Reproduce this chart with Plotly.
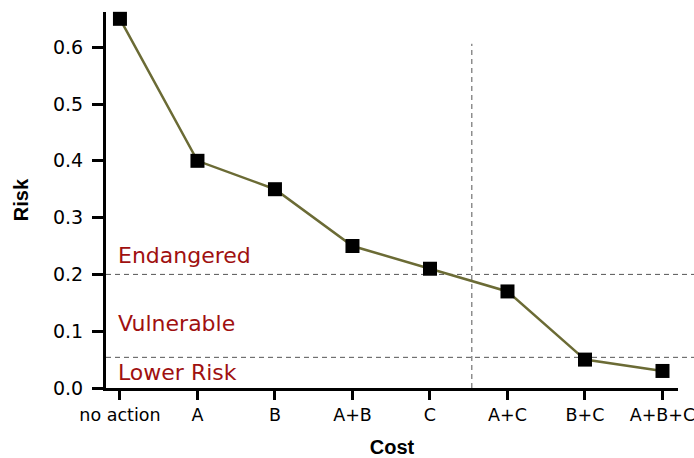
import plotly.graph_objects as go

categories = ["no action", "A", "B", "A+B", "C", "A+C", "B+C", "A+B+C"]
risk = [0.65, 0.40, 0.35, 0.25, 0.21, 0.17, 0.05, 0.03]
y_ticks = [0.0, 0.1, 0.2, 0.3, 0.4, 0.5, 0.6]
threshold_endangered = 0.2
threshold_lower = 0.054
cost_cut = 4.54
cost_cut_top = 0.606
zone_labels = ["Endangered", "Vulnerable", "Lower Risk"]
zone_label_y = [0.234, 0.113, 0.028]

Y_MAX = 0.662
X_RANGE = [-0.18, 7.2]

x_idx = list(range(len(categories)))

fig = go.Figure()
fig.add_trace(go.Scatter(
    x=x_idx, y=risk, mode="lines+markers",
    line=dict(color="#6b6b35", width=2.5),
    marker=dict(symbol="square", size=14, color="black"),
    cliponaxis=False, showlegend=False,
))

dash = "5px,4px"
for thr in [threshold_endangered, threshold_lower]:
    fig.add_shape(type="line", xref="x domain", yref="y domain",
                  x0=0, x1=1.03, y0=thr / Y_MAX, y1=thr / Y_MAX,
                  line=dict(color="#555555", width=1, dash=dash), layer="below")
fig.add_shape(type="line", xref="x", yref="y",
              x0=cost_cut, x1=cost_cut, y0=0, y1=cost_cut_top,
              line=dict(color="#555555", width=1, dash=dash), layer="below")

for txt, yy in zip(zone_labels, zone_label_y):
    fig.add_annotation(x=-0.05, y=yy, xref="x", yref="y", text=txt,
                       showarrow=False, xanchor="left", yanchor="middle",
                       font=dict(family="DejaVu Sans", size=22, color="#a01010"))

fig.update_layout(
    width=694, height=458,
    margin=dict(l=106, r=16, t=12, b=70),
    plot_bgcolor="white", paper_bgcolor="white",
    font=dict(family="DejaVu Sans", size=19, color="black"),
)
fig.update_xaxes(
    range=X_RANGE, tickvals=x_idx, ticktext=categories, automargin=False,
    ticklabeloverflow="allow", tickfont=dict(size=17.5),
    showgrid=False, zeroline=False, showline=True, linecolor="black", linewidth=3,
    ticks="outside", ticklen=9, tickwidth=3, tickcolor="black",
    title=dict(text="<b>Cost</b>", font=dict(family="Liberation Sans", size=20), standoff=21),
)
fig.update_yaxes(
    range=[0, Y_MAX], tickvals=y_ticks, ticktext=[f"{v:.1f}" for v in y_ticks],
    automargin=False, ticklabelstandoff=5,
    showgrid=False, zeroline=False, showline=True, linecolor="black", linewidth=3,
    ticks="outside", ticklen=11, tickwidth=3, tickcolor="black",
    title=dict(text="<b>Risk</b>", font=dict(family="Liberation Sans", size=20), standoff=19),
)

# remove the browser's default 8px body margin so the figure fills the window exactly
fig.write_html(
    "out.html",
    config={"displayModeBar": False},
    post_script="document.body.style.margin='0';document.body.style.overflow='hidden';",
)
